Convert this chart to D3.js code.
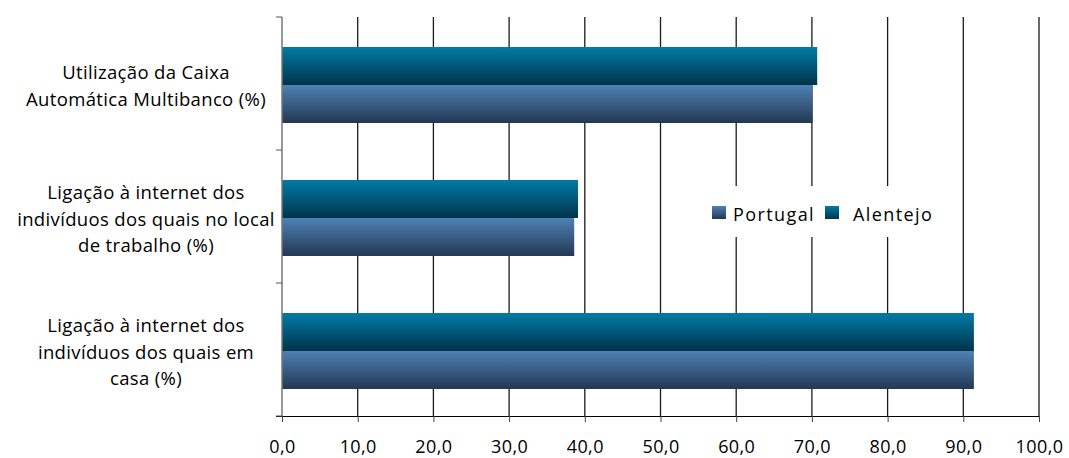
<!DOCTYPE html>
<html><head><meta charset="utf-8">
<script src="https://cdn.jsdelivr.net/npm/d3@7"></script>
<style>body{margin:0;background:#fff}svg{display:block}text{font-family:"Open Sans",sans-serif;fill:#000}</style>
</head><body><svg id="c" width="1069" height="458"></svg>
<script>
const categories = [
  ["Utilização da Caixa","Automática Multibanco (%)"],
  ["Ligação à internet dos","indivíduos dos quais no local","de trabalho (%)"],
  ["Ligação à internet dos","indivíduos dos quais em","casa (%)"]
];
const seriesNames = ["Alentejo","Portugal"];
const alentejo = [70.7, 39.1, 91.4];
const portugal = [70.1, 38.6, 91.4];
const xTicks = [0,10,20,30,40,50,60,70,80,90,100];
const legendOrder = ["Portugal","Alentejo"];

const svg = d3.select("#c");
const m = {l:282, r:1039, t:17, b:416};
const x = d3.scaleLinear().domain([0,100]).range([m.l, m.r]);
const y = d3.scaleBand().domain(d3.range(categories.length)).range([m.t, m.b]).paddingInner(0).paddingOuter(0);
const inner = d3.scaleBand().domain(seriesNames).range([30, 106]).padding(0);

const defs = svg.append("defs");
function grad(id, c1, c2){
  const g = defs.append("linearGradient").attr("id", id).attr("x1",0).attr("y1",0).attr("x2",0).attr("y2",1);
  g.append("stop").attr("offset","0%").attr("stop-color",c1);
  g.append("stop").attr("offset","100%").attr("stop-color",c2);
}
grad("gA","#007BA6","#00344A");
grad("gP","#4F81B5","#223853");
const fills = {Alentejo:"url(#gA)", Portugal:"url(#gP)"};

// gridlines
svg.append("g").selectAll("line").data(xTicks.slice(1)).join("line")
  .attr("x1",d=>x(d)).attr("x2",d=>x(d)).attr("y1",m.t).attr("y2",m.b)
  .attr("stroke","#1a1a1a").attr("stroke-width",1.3);

// bars
const data = [];
categories.forEach((c,i)=>{
  data.push({i, s:"Alentejo", v:alentejo[i]});
  data.push({i, s:"Portugal", v:portugal[i]});
});
svg.append("g").selectAll("rect").data(data).join("rect")
  .attr("x", x(0)).attr("y", d=>y(d.i)+inner(d.s))
  .attr("width", d=>x(d.v)-x(0)).attr("height", inner.bandwidth())
  .attr("fill", d=>fills[d.s]);

// x axis
const xAxis = d3.axisBottom(x).tickValues(xTicks).tickSize(6).tickPadding(18)
  .tickFormat(d=>d3.format(".1f")(d).replace(".",","));
const gx = svg.append("g").attr("transform",`translate(0,${m.b})`).call(xAxis);
gx.select(".domain").attr("stroke","#000").attr("d",`M${m.l-6},0.5H${m.r}`);
gx.selectAll(".tick line").attr("stroke","#444");
gx.selectAll("text").attr("font-size",18).attr("font-family","Open Sans").attr("fill","#000").attr("letter-spacing",0.4);

// y axis
svg.append("line").attr("x1",m.l).attr("x2",m.l).attr("y1",m.t).attr("y2",m.b)
  .attr("stroke","#777").attr("stroke-width",1.5);
const bounds = d3.range(categories.length+1).map(i=> i<categories.length ? y(i) : m.b);
svg.append("g").selectAll("line").data(bounds).join("line")
  .attr("x1",m.l-6).attr("x2",m.l).attr("y1",d=>d).attr("y2",d=>d)
  .attr("stroke","#555");

// category labels
const lh = 26.5;
categories.forEach((lines,i)=>{
  const cy = y(i)+y.bandwidth()/2;
  const t = svg.append("text").attr("text-anchor","middle").attr("font-size",18.5).attr("letter-spacing",0.35);
  lines.forEach((ln,k)=>{
    t.append("tspan").attr("x",146).attr("y", cy + (k-(lines.length-1)/2)*lh + 9).text(ln);
  });
});

// legend
const lg = svg.append("g");
lg.append("rect").attr("x",700).attr("y",186).attr("width",250).attr("height",51).attr("fill","#fff");
const lx = {Portugal:712, Alentejo:825};
const tx = {Portugal:733, Alentejo:853};
legendOrder.forEach(s=>{
  lg.append("rect").attr("x",lx[s]).attr("y",206).attr("width",14).attr("height",13).attr("fill",fills[s]);
  lg.append("text").attr("x",tx[s]).attr("y",221).attr("font-size",18).attr("letter-spacing",1.4).text(s);
});
</script></body></html>
